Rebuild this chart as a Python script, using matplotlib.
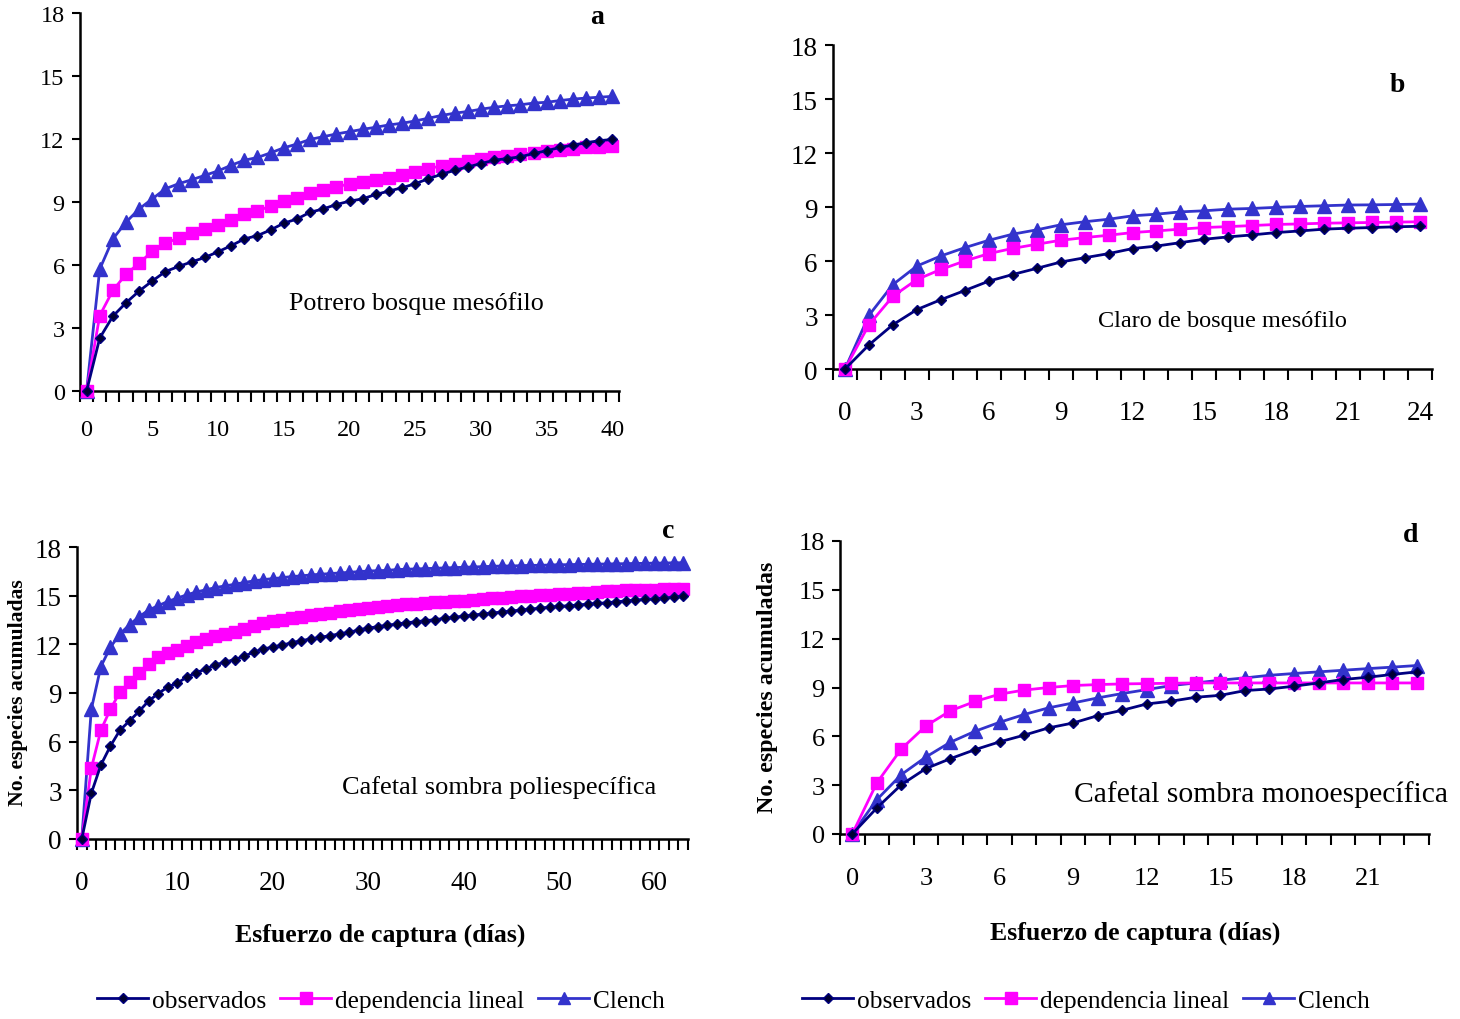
import numpy as np
import matplotlib
matplotlib.use("Agg")
import matplotlib.pyplot as plt
from matplotlib.lines import Line2D

plt.rcParams['font.family'] = ['Liberation Serif', 'DejaVu Serif']

# panel a - Potrero bosque mesofilo (0..40)
a_obs = [0, 2.52, 3.56, 4.2, 4.76, 5.24, 5.69, 5.93, 6.15, 6.36, 6.63, 6.92, 7.24, 7.40, 7.67, 7.99,
         8.19, 8.51, 8.67, 8.88, 9.04, 9.15, 9.36, 9.52, 9.68, 9.87, 10.11, 10.32, 10.51, 10.67, 10.83,
         10.99, 11.07, 11.15, 11.31, 11.44, 11.6, 11.71, 11.82, 11.92, 11.98]
a_lin = [0, 3.59, 4.79, 5.56, 6.09, 6.65, 7.04, 7.28, 7.51, 7.70, 7.92, 8.16, 8.43, 8.56, 8.82, 9.04,
         9.2, 9.44, 9.58, 9.71, 9.87, 9.95, 10.03, 10.14, 10.27, 10.43, 10.59, 10.72, 10.83, 10.94, 11.05,
         11.15, 11.21, 11.28, 11.34, 11.41, 11.47, 11.53, 11.6, 11.63, 11.68]
a_cle = [0, 5.8, 7.24, 8.04, 8.67, 9.15, 9.63, 9.87, 10.06, 10.27, 10.48, 10.75, 10.99, 11.12, 11.34, 11.58,
         11.76, 11.98, 12.11, 12.24, 12.35, 12.46, 12.56, 12.67, 12.75, 12.86, 12.99, 13.12, 13.23, 13.31, 13.42,
         13.51, 13.58, 13.63, 13.71, 13.75, 13.83, 13.9, 13.95, 13.99, 14.03]

# panel b - Claro de bosque mesofilo (0..24)
b_obs = [0, 1.34, 2.46, 3.30, 3.85, 4.36, 4.88, 5.25, 5.59, 5.94, 6.18, 6.41, 6.69, 6.83, 7.02, 7.21,
         7.34, 7.45, 7.58, 7.67, 7.77, 7.82, 7.86, 7.90, 7.93]
b_lin = [0, 2.46, 4.04, 4.97, 5.53, 6.0, 6.41, 6.70, 6.93, 7.15, 7.30, 7.43, 7.58, 7.67, 7.77, 7.86,
         7.91, 7.97, 8.03, 8.06, 8.10, 8.12, 8.14, 8.16, 8.18]
b_cle = [0, 2.98, 4.69, 5.72, 6.28, 6.74, 7.15, 7.49, 7.73, 8.01, 8.18, 8.32, 8.51, 8.60, 8.73, 8.79,
         8.88, 8.92, 8.98, 9.03, 9.07, 9.11, 9.12, 9.14, 9.16]

# panel c - Cafetal sombra poliespecifica (0..63)
c_obs = [0, 2.82, 4.56, 5.73, 6.71, 7.28, 7.87, 8.51, 8.96, 9.37, 9.61, 9.98, 10.25, 10.49, 10.74, 10.9,
         11.06, 11.27, 11.51, 11.72, 11.82, 11.96, 12.09, 12.23, 12.33, 12.43, 12.54, 12.64, 12.74, 12.88, 13.0,
         13.09, 13.17, 13.25, 13.33, 13.39, 13.46, 13.52, 13.6, 13.66, 13.74, 13.8, 13.87, 13.93, 13.99, 14.05,
         14.11, 14.17, 14.23, 14.29, 14.34, 14.38, 14.42, 14.48, 14.52, 14.56, 14.62, 14.68, 14.72, 14.77, 14.81,
         14.85, 14.91, 14.97]
c_lin = [0, 4.36, 6.71, 8.0, 9.06, 9.67, 10.25, 10.8, 11.21, 11.45, 11.66, 11.88, 12.13, 12.33, 12.5, 12.64,
         12.78, 12.94, 13.15, 13.29, 13.42, 13.52, 13.62, 13.7, 13.78, 13.87, 13.95, 14.03, 14.11, 14.17, 14.23,
         14.29, 14.36, 14.42, 14.46, 14.5, 14.54, 14.58, 14.62, 14.66, 14.7, 14.74, 14.79, 14.83, 14.87, 14.91,
         14.95, 14.99, 15.03, 15.07, 15.09, 15.13, 15.17, 15.19, 15.23, 15.26, 15.3, 15.32, 15.34, 15.36, 15.38,
         15.4, 15.42, 15.44]
c_cle = [0, 8.0, 10.63, 11.82, 12.64, 13.21, 13.70, 14.11, 14.38, 14.64, 14.85, 15.05, 15.23, 15.36, 15.5, 15.6,
         15.7, 15.81, 15.91, 15.99, 16.05, 16.11, 16.18, 16.22, 16.28, 16.32, 16.36, 16.4, 16.44, 16.48, 16.52,
         16.54, 16.56, 16.61, 16.63, 16.65, 16.67, 16.69, 16.71, 16.73, 16.75, 16.77, 16.79, 16.81, 16.83, 16.83,
         16.85, 16.87, 16.87, 16.89, 16.91, 16.91, 16.93, 16.93, 16.95, 16.95, 16.97, 16.97, 16.99, 16.99, 17.01,
         17.01, 17.03, 17.03]

# panel d - Cafetal sombra monoespecifica (0..23)
d_obs = [0, 1.6, 3.03, 4.02, 4.63, 5.18, 5.66, 6.07, 6.52, 6.82, 7.27, 7.6, 7.99, 8.16, 8.40, 8.52,
         8.81, 8.91, 9.08, 9.28, 9.49, 9.63, 9.80, 9.96]
d_lin = [0, 3.14, 5.23, 6.64, 7.57, 8.14, 8.59, 8.84, 9.0, 9.12, 9.18, 9.22, 9.24, 9.26, 9.28, 9.28,
         9.28, 9.28, 9.28, 9.28, 9.28, 9.28, 9.28, 9.28]
d_cle = [0, 2.11, 3.65, 4.73, 5.64, 6.31, 6.86, 7.34, 7.75, 8.05, 8.36, 8.63, 8.87, 9.12, 9.28, 9.45,
         9.59, 9.75, 9.86, 9.96, 10.06, 10.16, 10.25, 10.35]

y_ticks = [0, 3, 6, 9, 12, 15, 18]
series_names = ['observados', 'dependencia lineal', 'Clench']

C_OBS = '#000080'
C_LIN = '#FF00FF'
C_CLE = '#3333CC'

W, H = 1460, 1020
fig = plt.figure(figsize=(W / 100, H / 100), dpi=100)


def px_axes(left, top, right, bottom):
    return fig.add_axes([left / W, 1 - bottom / H, (right - left) / W, (bottom - top) / H])


def panel(ax, obs, lin, cle, step, fs, pad, txt, txt_xy, txt_fs, letter, letter_xy):
    x = np.arange(len(obs))
    ax.plot(x, lin, color=C_LIN, lw=2, marker='s', ms=9, mec=C_LIN, zorder=3)
    ax.plot(x, obs, color=C_OBS, lw=2, marker='D', ms=5.5, mfc='#000033', mec=C_OBS, zorder=4)
    ax.plot(x, cle, color=C_CLE, lw=2, marker='^', ms=10, mec=C_CLE, zorder=2)
    n = len(obs)
    ax.set_xlim(-0.5, n - 0.5)
    ax.set_ylim(0, 18)
    ax.set_yticks(y_ticks)
    ax.set_xticks(np.arange(0, n, step))
    ax.set_xticks(np.arange(-0.5, n, 1.0), minor=True)
    ax.tick_params(axis='x', which='major', length=0, pad=pad, labelsize=fs)
    ax.tick_params(axis='x', which='minor', length=8, width=1.5, direction='out')
    ax.tick_params(axis='y', length=6, width=1.5, direction='out', labelsize=fs, pad=5)
    for s in ['top', 'right']:
        ax.spines[s].set_visible(False)
    for s in ['left', 'bottom']:
        ax.spines[s].set_linewidth(1.8)
    ax.patch.set_alpha(0)
    for l in ax.lines:
        l.set_clip_on(False)
    fig.text(txt_xy[0] / W, 1 - txt_xy[1] / H, txt, fontsize=txt_fs, ha='center', va='center')
    fig.text(letter_xy[0] / W, 1 - letter_xy[1] / H, letter, fontsize=20, fontweight='bold',
             ha='center', va='center')


ax_a = px_axes(80, 14, 619, 392)
panel(ax_a, a_obs, a_lin, a_cle, 5, 17.5, 20, 'Potrero bosque mesófilo', (416, 304), 18.7, 'a', (597, 18))

ax_b = px_axes(833, 46, 1432, 370)
panel(ax_b, b_obs, b_lin, b_cle, 3, 19.5, 22, 'Claro de bosque mesófilo', (1222, 321), 17.5, 'b', (1397, 86))

ax_c = px_axes(77, 548, 688, 840)
panel(ax_c, c_obs, c_lin, c_cle, 10, 19.5, 22, 'Cafetal sombra poliespecífica', (499, 788), 19, 'c', (668, 531))

ax_d = px_axes(840, 542, 1429, 835)
panel(ax_d, d_obs, d_lin, d_cle, 3, 19, 24, 'Cafetal sombra monoespecífica', (1261, 795), 21.3, 'd', (1411, 536))

# axis titles
fig.text(18 / W, 1 - 693 / H, 'No. especies acumuladas', rotation=90, fontsize=15.6, fontweight='bold',
         ha='center', va='center')
fig.text(767 / W, 1 - 687 / H, 'No. especies acumuladas', rotation=90, fontsize=17.2, fontweight='bold',
         ha='center', va='center')
fig.text(380 / W, 1 - 935 / H, 'Esfuerzo de captura (días)', fontsize=18.5, fontweight='bold',
         ha='center', va='center')
fig.text(1135 / W, 1 - 933 / H, 'Esfuerzo de captura (días)', fontsize=18.5, fontweight='bold',
         ha='center', va='center')

# legends
handles = [
    Line2D([], [], color=C_OBS, lw=2, marker='D', ms=5.5, mfc='#000033', mec=C_OBS),
    Line2D([], [], color=C_LIN, lw=2, marker='s', ms=8, mec=C_LIN),
    Line2D([], [], color=C_CLE, lw=2, marker='^', ms=8, mec=C_CLE),
]
for cx in (381, 1086):
    fig.legend(handles, series_names, loc='center', bbox_to_anchor=(cx / W, 1 - 1002 / H), ncol=3,
               frameon=False, fontsize=18.3, handlelength=2.0, handletextpad=0.15, columnspacing=0.55,
               borderaxespad=0)

fig.savefig('out.png', dpi=100)
